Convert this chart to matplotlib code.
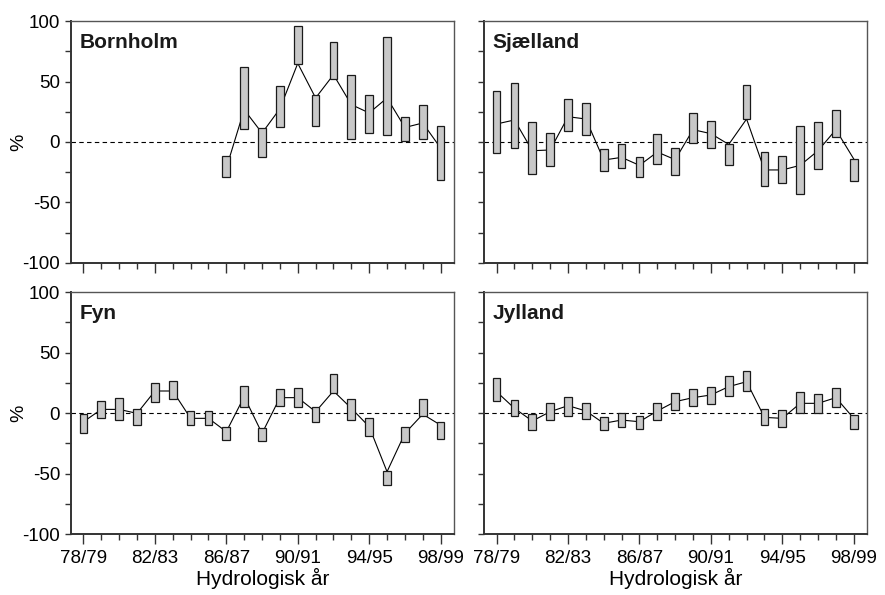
import matplotlib
matplotlib.use("Agg")
import matplotlib.pyplot as plt
from matplotlib.ticker import MultipleLocator, FixedLocator
import numpy as np

plt.rcParams['font.family'] = ['Liberation Sans', 'DejaVu Sans']
plt.rcParams['axes.unicode_minus'] = False

years = ["78/79", "79/80", "80/81", "81/82", "82/83", "83/84", "84/85", "85/86",
         "86/87", "87/88", "88/89", "89/90", "90/91", "91/92", "92/93", "93/94",
         "94/95", "95/96", "96/97", "97/98", "98/99"]

# Bornholm: series starts in 86/87 (index 8)
bornholm_start = 8
bornholm_low = [-29.2, 10.7, -12.7, 12.4, 64.5, 12.9, 52.1, 2.8, 7.4, 5.5, 0.5, 2.2, -31.7]
bornholm_high = [-11.3, 61.7, 11.3, 46.6, 96.1, 38.8, 82.6, 55.6, 38.6, 87.0, 20.7, 30.9, 12.9]
bornholm_mid = [-21.5, 26.7, 7.4, 27.5, 65.0, 36.4, 55.6, 30.9, 24.0, 36.4, 12.0, 15.7, -5.0]

sjaelland_low = [-8.8, -5.0, -26.4, -19.6, 8.8, 6.0, -23.7, -21.5, -28.6, -17.9, -27.0,
                 -0.6, -5.0, -19.0, 19.0, -36.4, -33.9, -42.7, -22.3, 3.9, -32.5]
sjaelland_high = [42.1, 49.0, 16.3, 7.4, 35.5, 32.0, -6.0, -1.4, -12.1, 6.6, -5.0,
                  24.0, 17.1, -1.7, 47.1, -8.3, -11.8, 12.9, 16.3, 26.4, -14.0]
sjaelland_mid = [14.9, 18.2, -7.2, -6.6, 20.9, 19.0, -14.9, -12.7, -19.3, -8.3, -14.6,
                 10.2, 6.9, -2.0, 19.0, -23.1, -23.1, -19.3, -7.2, 10.2, -14.0]

fyn_low = [-16.5, -4.4, -5.8, -9.9, 9.0, 11.3, -9.9, -9.9, -22.6, 5.2, -23.4,
           5.8, 5.0, -7.4, 16.8, -5.8, -19.0, -59.5, -23.7, -2.5, -21.5]
fyn_high = [-1.1, 9.9, 12.1, 3.3, 25.0, 26.4, 1.9, 1.9, -11.8, 22.0, -12.1,
            20.1, 20.4, 5.2, 32.5, 11.6, -4.4, -48.2, -11.6, 11.8, -7.4]
fyn_mid = [-7.2, 3.0, 3.0, -0.3, 18.2, 18.2, -4.4, -4.4, -15.4, 13.5, -16.8,
           12.7, 12.7, 1.1, 18.2, 3.9, -11.3, -48.5, -16.8, -1.0, -10.0]

jylland_low = [9.9, -2.8, -14.3, -5.8, -2.2, -5.0, -14.3, -11.6, -13.5, -5.8, 2.5,
               5.5, 7.4, 14.0, 18.2, -9.9, -11.3, 0.0, 0.0, 5.2, -13.5]
jylland_high = [28.7, 11.0, -0.6, 8.5, 13.2, 8.3, -3.0, 0.3, -2.5, 8.3, 16.5,
                19.6, 21.5, 30.3, 34.7, 3.3, 2.5, 17.4, 16.0, 20.7, -1.9]
jylland_mid = [17.6, 3.9, -6.6, 1.1, 6.1, 1.7, -8.5, -5.8, -7.2, 1.7, 9.4,
               12.7, 14.9, 21.8, 25.9, -3.6, -4.4, 8.0, 8.0, 12.7, -4.4]

panels = [
    ("Bornholm", bornholm_start, bornholm_low, bornholm_high, bornholm_mid),
    ("Sjælland", 0, sjaelland_low, sjaelland_high, sjaelland_mid),
    ("Fyn", 0, fyn_low, fyn_high, fyn_mid),
    ("Jylland", 0, jylland_low, jylland_high, jylland_mid),
]

fig = plt.figure(figsize=(8.85, 5.95), dpi=100)
lefts = [0.0802, 0.547]
width = 0.4328
bottoms = [0.558, 0.1025]
height = 0.4067

for k, (name, start, low, high, mid) in enumerate(panels):
    row, col = divmod(k, 2)
    ax = fig.add_axes([lefts[col], bottoms[row], width, height])
    x = np.arange(start, start + len(low))
    low = np.array(low)
    high = np.array(high)
    ax.axhline(0, color="black", lw=0.8, ls=(0, (4, 3)), zorder=1)
    ax.plot(x, mid, color="black", lw=0.8, zorder=2)
    ax.bar(x, high - low, bottom=low, width=0.43, color="#c8c8c8",
           edgecolor="#1a1a1a", linewidth=0.9, zorder=3)
    ax.set_xlim(-0.7, 20.75)
    ax.set_ylim(-100, 100)
    ax.yaxis.set_major_locator(MultipleLocator(50))
    ax.yaxis.set_minor_locator(MultipleLocator(25))
    ax.xaxis.set_major_locator(FixedLocator(range(0, 21, 4)))
    ax.xaxis.set_minor_locator(FixedLocator(range(0, 21)))
    ax.tick_params(which="both", direction="out", width=1.0,
                   labelsize=13.5, color="#333333")
    ax.tick_params(axis="y", which="both", length=4.3, pad=3.6)
    ax.tick_params(axis="x", which="major", length=7.2, pad=4)
    ax.tick_params(axis="x", which="minor", length=4.3)
    if row == 1:
        ax.set_xticklabels([years[i] for i in range(0, 21, 4)])
        ax.set_xlabel("Hydrologisk år", fontsize=15, labelpad=1)
    else:
        ax.set_xticklabels([])
    if col == 0:
        ax.set_ylabel("%", fontsize=14)
        ax.yaxis.set_label_coords(-0.115, 0.5)
    else:
        ax.set_yticklabels([])
    for side in ["left", "bottom"]:
        ax.spines[side].set_linewidth(1.4)
        ax.spines[side].set_color("#333333")
    for side in ["top", "right"]:
        ax.spines[side].set_linewidth(1.0)
        ax.spines[side].set_color("#555555")
    ax.text(0.022, 0.95, name, transform=ax.transAxes, fontsize=15,
            fontweight="bold", va="top", ha="left", color="#1a1a1a")

fig.savefig("out.png", dpi=100)
